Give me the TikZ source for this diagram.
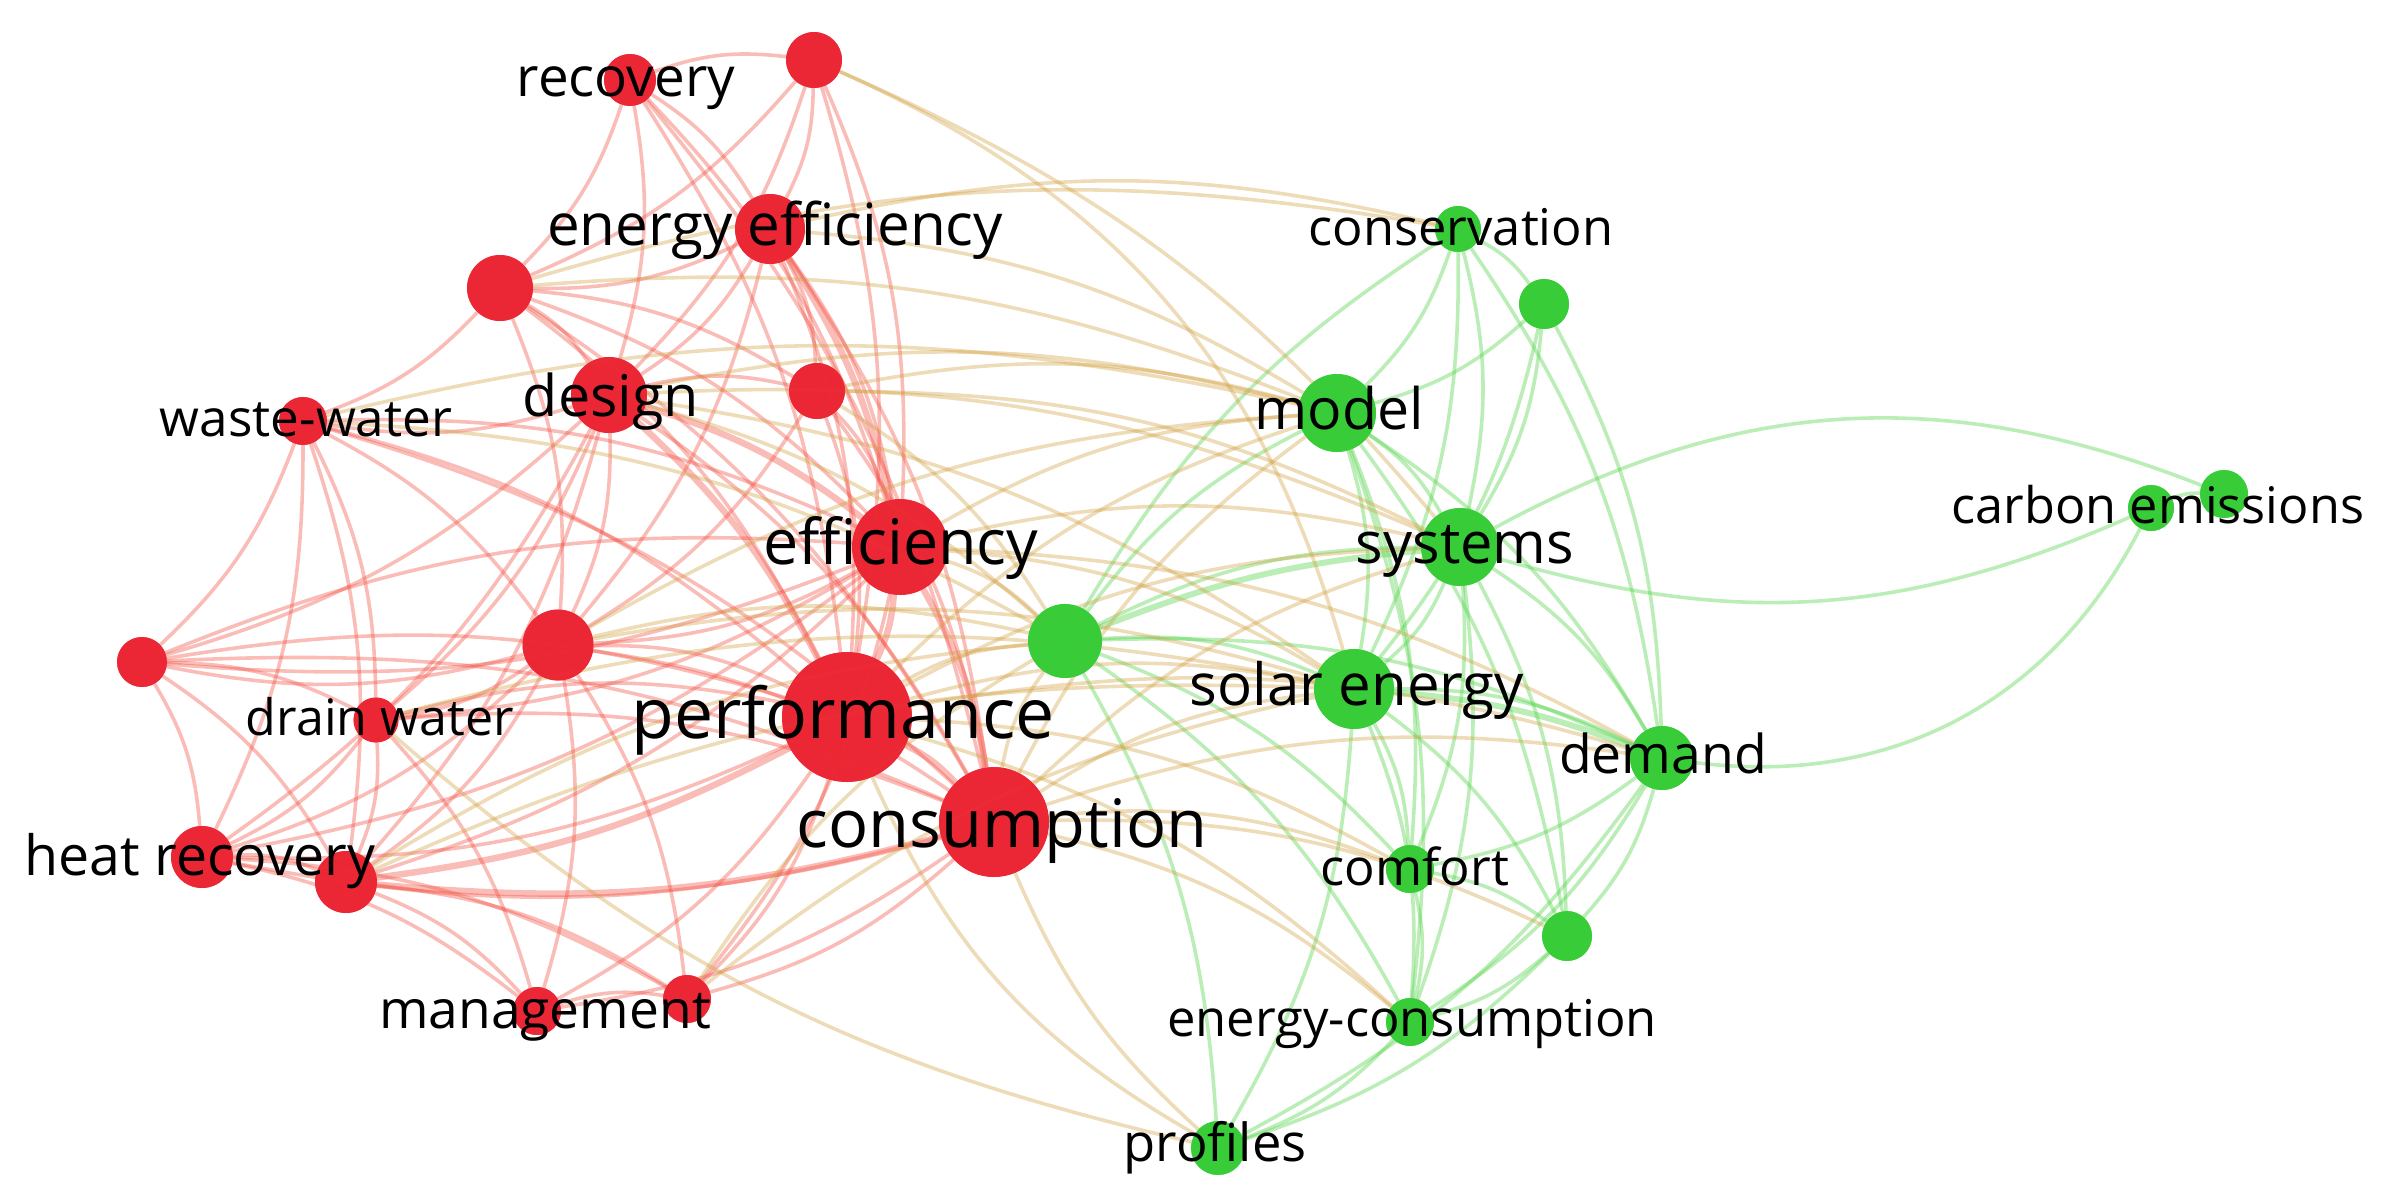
\documentclass[tikz,border=0pt]{standalone}
\usepackage{fontspec}
\setmainfont{Open Sans}
\newcommand\fsz[1]{\fontsize{#1}{#1}\selectfont}
\definecolor{nodeR}{RGB}{236,38,52}
\definecolor{nodeG}{RGB}{55,205,55}
\definecolor{edR}{RGB}{242,80,65}
\definecolor{edG}{RGB}{85,212,75}
\definecolor{edM}{RGB}{210,160,65}
\tikzset{
  rn/.style={circle,fill=nodeR,fill opacity=0.93,inner sep=0,minimum size=#1},
  gn/.style={circle,fill=nodeG,fill opacity=0.93,inner sep=0,minimum size=#1},
  er/.style={draw=edR,line width=3.6,draw opacity=0.38},
  eg/.style={draw=edG,line width=3.6,draw opacity=0.4},
  em/.style={draw=edM,line width=3.6,draw opacity=0.38},
  lbl/.style={anchor=base,inner sep=0,text=black},
}
\begin{document}
\begin{tikzpicture}[x=1bp,y=-1bp]
\useasboundingbox (0,0) rectangle (2396,1187);
% red nodes
\node[rn=52] (rec) at (630,80) {};
\node[rn=56] (rA) at (814,60) {};
\node[rn=70] (ee) at (770,229) {};
\node[rn=66] (rB) at (500,288) {};
\node[rn=76] (des) at (609,395) {};
\node[rn=56] (rC) at (817,391) {};
\node[rn=48] (ww) at (303,421) {};
\node[rn=96] (eff) at (900,547) {};
\node[rn=71] (rD) at (558,645) {};
\node[rn=50] (rE) at (142,662) {};
\node[rn=45] (dw) at (376,720) {};
\node[rn=130] (perf) at (847,717) {};
\node[rn=110] (cons) at (994,822) {};
\node[rn=62] (hr1) at (202,857) {};
\node[rn=62] (hr2) at (346,882) {};
\node[rn=48] (mg1) at (537,1011) {};
\node[rn=48] (mg2) at (687,999) {};
% green nodes
\node[gn=74] (gA) at (1065,641) {};
\node[gn=46] (gcon) at (1458,229) {};
\node[gn=50] (gB) at (1544,304) {};
\node[gn=78] (mod) at (1337,413) {};
\node[gn=78] (sys) at (1460,547) {};
\node[gn=46] (ce1) at (2151,508) {};
\node[gn=48] (ce2) at (2224,494) {};
\node[gn=80] (sol) at (1354,689) {};
\node[gn=64] (dem) at (1662,758) {};
\node[gn=48] (com) at (1410,869) {};
\node[gn=50] (gC) at (1567,936) {};
\node[gn=48] (ec) at (1410,1022) {};
\node[gn=54] (pro) at (1218,1148) {};
% edges
\foreach \a/\b in {rec/rA,rec/ee,rec/rB,rec/des,rec/eff,rec/perf,rec/cons,rA/ee,rA/rB,rA/eff,rA/perf,rA/des,
  ee/rB,ee/des,ee/rC,ee/eff,ee/perf,ee/cons,ee/rD,rB/des,rB/ww,rB/rC,rB/eff,rB/perf,rB/rD,rB/cons,
  des/ww,des/rC,des/cons,des/rD,des/dw,des/hr2,des/rE,des/hr1,ww/rD,ww/rE,ww/hr1,ww/hr2,ww/dw,
  ww/perf,ww/eff,ww/cons,rC/eff,rC/perf,rC/cons,rC/rD,eff/rD,eff/hr2,eff/mg2,eff/dw,eff/rE,eff/hr1,
  rD/perf,rD/cons,rD/hr1,rD/hr2,rD/dw,rD/rE,rD/mg1,rD/mg2,rE/hr1,rE/hr2,rE/dw,rE/perf,rE/cons,rE/eff,
  dw/hr1,dw/hr2,dw/perf,dw/cons,dw/mg1,perf/hr1,perf/mg1,perf/mg2,cons/hr1,cons/mg1,cons/mg2,
  hr1/hr2,hr1/mg1,hr1/mg2,hr2/mg1,hr2/mg2,mg1/mg2}
  \draw[er] (\a) to[bend left=13] (\b);
\foreach \a/\b in {eff/perf,eff/cons,perf/cons,perf/hr2,cons/hr2,des/eff,des/perf,ee/eff}
  \draw[er,line width=6.5] (\a) to[bend left=10] (\b);
\foreach \a/\b in {gA/mod,gA/sys,gA/sol,gA/dem,gA/com,gA/ec,gA/pro,gA/gcon,gcon/gB,gcon/mod,gcon/sys,gcon/sol,gcon/dem,
  gB/mod,gB/sys,gB/dem,gB/sol,mod/sys,mod/sol,mod/dem,mod/com,mod/gC,mod/ec,sys/sol,sys/dem,sys/gC,sys/com,sys/ec,
  ce1/ce2,sol/dem,sol/com,sol/gC,sol/ec,sol/pro,dem/com,dem/gC,dem/ec,dem/pro,com/gC,com/ec,gC/ec,ec/pro,gC/pro}
  \draw[eg] (\a) to[bend left=13] (\b);
\draw[eg] (sys) to[bend left=25] (ce2);
\draw[eg] (ce1) to[bend left=20] (sys);
\draw[eg] (dem) to[bend right=35] (ce1);
\draw[eg,line width=6] (gA) to[bend left=8] (sys);
\draw[eg,line width=6] (sol) to[bend left=8] (dem);
\foreach \a/\b in {eff/mod,eff/sys,eff/sol,eff/gA,perf/gA,perf/mod,perf/sys,perf/sol,perf/dem,perf/com,
  cons/gA,cons/sol,cons/sys,cons/mod,cons/dem,cons/com,cons/ec,cons/gC,des/mod,des/sys,des/gA,des/sol,
  ee/gcon,ee/mod,rC/mod,rC/sys,rC/gA,ww/gA,ww/mod,rB/gcon,rB/mod,rD/sol,rD/mod,rD/gA,
  mg2/sol,perf/ec,eff/dem,dw/sol,hr2/gA,rA/sys,hr2/sol,mg2/gA}
  \draw[em] (\a) to[bend left=13] (\b);
\draw[em] (cons) to[bend right=12] (pro);
\draw[em] (perf) to[bend right=18] (pro);
\draw[em] (dw) to[bend right=14] (pro);
\draw[em] (rA) to[bend left=25] (sol);
% redraw nodes on top
\foreach \n/\d in {rec/52,rA/56,ee/70,rB/66,des/76,rC/56,ww/48,eff/96,rD/71,rE/50,dw/45,perf/130,cons/110,hr1/62,hr2/62,mg1/48,mg2/48}
  \fill[nodeR,fill opacity=0.93] (\n.center) circle[radius=\d/2];
\foreach \n/\d in {gA/74,gcon/46,gB/50,mod/78,sys/78,ce1/46,ce2/48,sol/80,dem/64,com/48,gC/50,ec/48,pro/54}
  \fill[nodeG,fill opacity=0.93] (\n.center) circle[radius=\d/2];
% labels
\node[lbl,font=\fsz{55}] (lrec) at (626,96) {recovery};
\node[lbl,font=\fsz{58.5}] (lee) at (775,245) {energy efficiency};
\node[lbl,font=\fsz{57.7}] (ldes) at (611,416) {design};
\node[lbl,font=\fsz{51.4}] (lww) at (306,436) {waste-water};
\node[lbl,font=\fsz{63}] (leff) at (901,564) {efficiency};
\node[lbl,font=\fsz{50.4}] (ldw) at (380,735) {drain water};
\node[lbl,font=\fsz{70}] (lperf) at (843,738) {performance};
\node[lbl,font=\fsz{67}] (lcons) at (1002,847) {consumption};
\node[lbl,font=\fsz{55.7}] (lhr) at (200,875) {heat recovery};
\node[lbl,font=\fsz{53.5}] (lmg) at (545,1028) {management};
\node[lbl,font=\fsz{50.8}] (lgcon) at (1461,245) {conservation};
\node[lbl,font=\fsz{57.4}] (lmod) at (1339,429) {model};
\node[lbl,font=\fsz{58}] (lsys) at (1465,563) {systems};
\node[lbl,font=\fsz{50.6}] (lce) at (2158,523) {carbon emissions};
\node[lbl,font=\fsz{58.4}] (lsol) at (1357,705) {solar energy};
\node[lbl,font=\fsz{53.7}] (ldem) at (1663,773) {demand};
\node[lbl,font=\fsz{50.9}] (lcom) at (1415,885) {comfort};
\node[lbl,font=\fsz{50.9}] (lec) at (1412,1036) {energy-consumption};
\node[lbl,font=\fsz{52.7}] (lpro) at (1215,1161) {profiles};
\end{tikzpicture}
\end{document}
